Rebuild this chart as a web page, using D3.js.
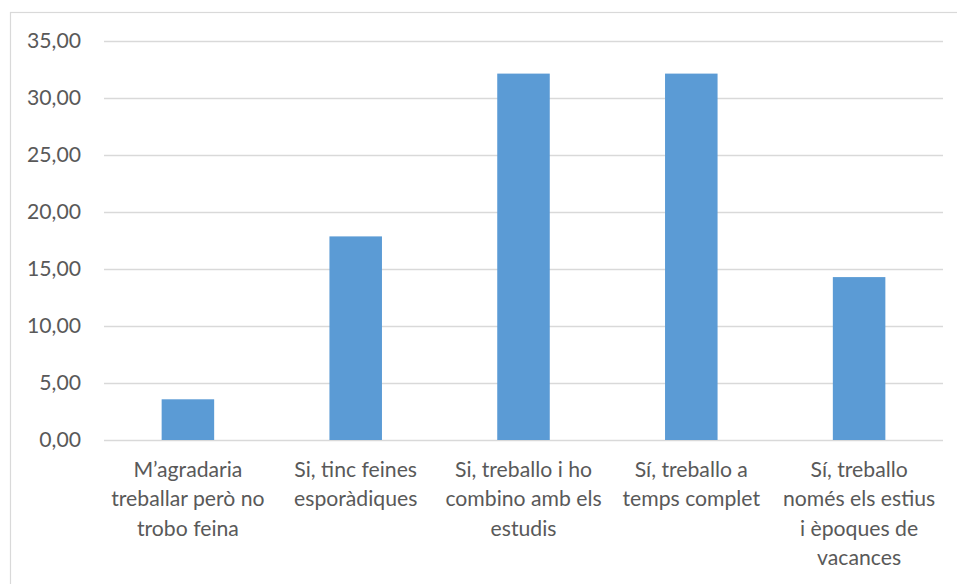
<!DOCTYPE html>
<html>
<head>
<meta charset="utf-8">
<script src="https://cdn.jsdelivr.net/npm/d3@7"></script>
<style>
   body { margin: 0; background: #fff; }
   svg text { font-family: Lato, "Open Sans", sans-serif; fill: #595959; }
</style>
</head>
<body>
<div id="chart"></div>
<script>

// CHART DATA
var categories = [
   ['M\u2019agradaria', 'treballar però no', 'trobo feina'],
   ['Si, tinc feines', 'esporàdiques'],
   ['Si, treballo i ho', 'combino amb els', 'estudis'],
   ['Sí, treballo a', 'temps complet'],
   ['Sí, treballo', 'només els estius', 'i èpoques de', 'vacances']
];
var values = [3.57, 17.86, 32.14, 32.14, 14.29];
var yTicks = [0, 5, 10, 15, 20, 25, 30, 35];

// SETTINGS
var settings = {
   width: 957,
   height: 584,
   plot: { left: 104, right: 943, top: 41, bottom: 440 },
   bar: '#5B9BD5',
   grid: '#d9d9d9',
   frame: '#d9d9d9',
   font: 21.2,
   gap: 0.687
};

// GENERATE CANVAS
var canvas = d3.select('#chart').append('svg')
   .attr('width', settings.width)
   .attr('height', settings.height)

// CHART FRAME
canvas.append('rect')
   .attr('x', 10.5)
   .attr('y', 12.5)
   .attr('width', 960)
   .attr('height', 600)
   .attr('fill', 'none')
   .attr('stroke', settings.frame)
   .attr('stroke-width', 1.2)

// Y-SCALING
var yScale = d3.scaleLinear()
   .domain([0, 35])
   .range([settings.plot.bottom, settings.plot.top])

// X-SCALING
var xScale = d3.scaleBand()
   .domain(d3.range(categories.length))
   .range([settings.plot.left, settings.plot.right])
   .paddingInner(settings.gap)
   .paddingOuter(settings.gap / 2)

// GRIDLINES
var grid = canvas.append('g')
   .attr('transform', 'translate(' + settings.plot.left + ',0)')
   .call(d3.axisLeft(yScale)
      .tickValues(yTicks)
      .tickSize(-(settings.plot.right - settings.plot.left))
      .tickFormat(''))
grid.select('.domain').remove()
grid.selectAll('line')
   .attr('stroke', settings.grid)
   .attr('stroke-width', 1.5)

// Y-AXIS LABELS
var yAxis = canvas.append('g')
   .attr('transform', 'translate(81,0)')
   .call(d3.axisLeft(yScale)
      .tickValues(yTicks)
      .tickSize(0)
      .tickPadding(0)
      .tickFormat(d => d3.format('.2f')(d).replace('.', ',')))
yAxis.select('.domain').remove()
yAxis.selectAll('text')
   .style('font-size', settings.font + 'px')
   .attr('fill', '#595959')

// BARS
canvas.selectAll('rect.bar')
   .data(values)
   .enter().append('rect')
      .attr('class', 'bar')
      .attr('x', (d, i) => xScale(i))
      .attr('y', d => yScale(d))
      .attr('width', xScale.bandwidth())
      .attr('height', d => yScale(0) - yScale(d))
      .attr('fill', settings.bar)

// X-AXIS LABELS
var xLabels = canvas.selectAll('text.cat')
   .data(categories)
   .enter().append('text')
      .attr('class', 'cat')
      .attr('text-anchor', 'middle')
      .style('font-size', settings.font + 'px')
      .attr('x', (d, i) => xScale(i) + xScale.bandwidth() / 2)
      .attr('y', 477)

xLabels.selectAll('tspan')
   .data(d => d)
   .enter().append('tspan')
      .attr('x', function() { return d3.select(this.parentNode).attr('x') })
      .attr('dy', (d, i) => i === 0 ? 0 : 29.3)
      .text(d => d)

</script>
</body>
</html>
